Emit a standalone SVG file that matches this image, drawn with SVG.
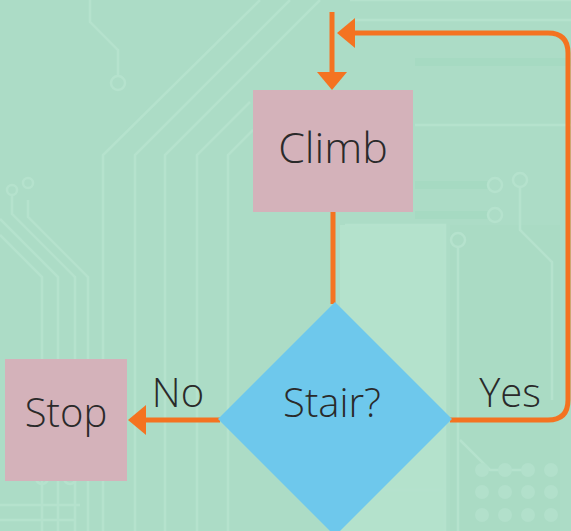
<svg xmlns="http://www.w3.org/2000/svg" width="571" height="531" viewBox="0 0 571 531">
  <style>
    .bg { fill: #acdcc6; }
    .trace { fill: none; stroke: #b5e2cd; stroke-width: 2.5; }
    .trace2 { fill: none; stroke: #a6dac2; stroke-width: 8; }
    .ring { fill: none; stroke: #b5e2cd; stroke-width: 2.5; }
    .dot { fill: #b2e0cb; }
    .box { fill: #d4b2ba; }
    .dec { fill: #6ec8ec; }
    .lbl { font-family: "Open Sans", "Liberation Sans", sans-serif; font-weight: 300; fill: #2a2a2a; text-anchor: middle; }
    .conn { fill: none; stroke: #f47321; stroke-width: 5; }
  </style>
  <defs>
    <marker id="arrow" markerUnits="userSpaceOnUse" markerWidth="20" markerHeight="32" refX="10" refY="15" orient="auto" viewBox="0 0 20 32">
      <path d="M0,0 L18,15 L0,30 z" fill="#f47321"/>
    </marker>
  </defs>

  <!-- background -->
  <g id="background">
    <rect class="bg" x="0" y="0" width="571" height="531"/>
    <rect x="340" y="225" width="105" height="306" fill="#b4e2cc"/>
    <rect x="450" y="225" width="110" height="306" fill="#aadbc4"/>
    <path class="trace" d="M118,76 V50 L90,22 V0"/>
    <circle class="ring" cx="118" cy="83" r="7"/>
    <path class="trace" d="M103,531 V155 L260,0"/>
    <path class="trace" d="M135,531 V155 L290,0"/>
    <path class="trace" d="M165,531 V155 L320,0"/>
    <path class="trace" d="M197,531 V155 L250,102"/>
    <path class="trace" d="M228,531 V155 L253,130"/>
    <path class="trace" d="M42,531 V277 L0,235"/>
    <path class="trace" d="M58,531 V277 L0,219"/>
    <path class="trace" d="M75,531 V277 L12,214 V195"/>
    <path class="trace" d="M88,531 V277 L28,217 V200"/>
    <circle class="ring" cx="12" cy="190" r="5"/>
    <circle class="ring" cx="28" cy="183" r="5"/>
    <path class="trace" d="M0,505 H80 M0,520 H75"/>
    <circle class="ring" cx="42" cy="478" r="6"/>
    <circle class="ring" cx="70" cy="478" r="6"/>
    <path class="trace" d="M350,0 H571 M350,20 H571"/>
    <path class="trace2" d="M415,62 H571"/>
    <path class="trace" d="M415,125 H571"/>
    <path class="trace2" d="M415,185 H488 M415,215 H488"/>
    <circle class="ring" cx="495" cy="185" r="7"/>
    <circle class="ring" cx="495" cy="215" r="7"/>
    <circle class="ring" cx="520" cy="180" r="7"/>
    <path class="trace" d="M520,187 V230 L552,262 V400"/>
    <circle class="ring" cx="458" cy="240" r="7"/>
    <path class="trace" d="M458,247 V531"/>
    <path class="trace" d="M345,225 H445 V531"/>
    <path class="trace" d="M460,440 L490,470 H530"/>
    <path class="trace" d="M380,490 H445"/>
    <circle class="dot" cx="482" cy="470" r="7"/>
    <circle class="dot" cx="505" cy="470" r="7"/>
    <circle class="dot" cx="528" cy="470" r="7"/>
    <circle class="dot" cx="551" cy="470" r="7"/>
    <circle class="dot" cx="482" cy="492" r="7"/>
    <circle class="dot" cx="505" cy="492" r="7"/>
    <circle class="dot" cx="528" cy="492" r="7"/>
    <circle class="dot" cx="551" cy="492" r="7"/>
    <circle class="dot" cx="482" cy="515" r="7"/>
    <circle class="dot" cx="505" cy="515" r="7"/>
    <circle class="dot" cx="528" cy="515" r="7"/>
    <circle class="dot" cx="551" cy="515" r="7"/>
  </g>

  <!-- connectors -->
  <g id="connectors">
    <path class="conn" d="M332,12 V82" marker-end="url(#arrow)"/>
    <path class="conn" d="M333,212 V304"/>
    <path class="conn" d="M450,420 H548 Q568,420 568,400 V53 Q568,33 548,33 H345" marker-end="url(#arrow)"/>
    <path class="conn" d="M220,420 H136" marker-end="url(#arrow)"/>
  </g>

  <!-- nodes -->
  <g id="climb">
    <rect class="box" x="253" y="90" width="160" height="122"/>
    <text class="lbl" x="333" y="163" font-size="43">Climb</text>
  </g>
  <g id="stair">
    <polygon class="dec" points="335,302 452,419 335,536 218,419"/>
    <text class="lbl" x="332" y="417" font-size="40">Stair?</text>
  </g>
  <g id="stop">
    <rect class="box" x="5" y="359" width="122" height="122"/>
    <text class="lbl" x="66" y="427" font-size="40">Stop</text>
  </g>

  <!-- edge labels -->
  <g id="edge-labels">
    <text class="lbl" x="178" y="407" font-size="40">No</text>
    <text class="lbl" x="510" y="407" font-size="40">Yes</text>
  </g>
</svg>
